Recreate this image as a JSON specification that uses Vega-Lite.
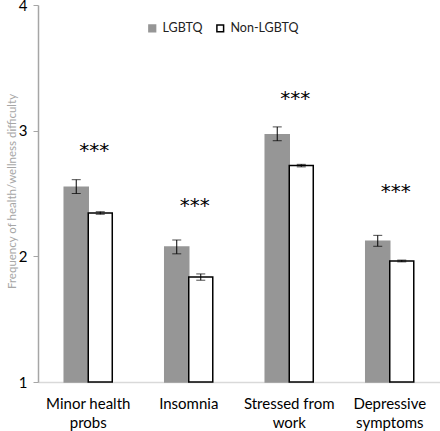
{
  "$schema": "https://vega.github.io/schema/vega-lite/v6.json",
  "width": 402,
  "height": 377,
  "autosize": {"type": "none"},
  "padding": {"left": 38, "top": 5, "right": 0, "bottom": 49},
  "background": "white",
  "config": {"view": {"stroke": null}, "font": "Lato"},
  "datasets": {
    "bars": [
      {"cat": "Minor health|probs", "group": "LGBTQ", "value": 2.55, "lo": 2.50, "hi": 2.61},
      {"cat": "Minor health|probs", "group": "Non-LGBTQ", "value": 2.345, "lo": 2.335, "hi": 2.355},
      {"cat": "Insomnia", "group": "LGBTQ", "value": 2.074, "lo": 2.02, "hi": 2.13},
      {"cat": "Insomnia", "group": "Non-LGBTQ", "value": 1.836, "lo": 1.81, "hi": 1.86},
      {"cat": "Stressed from|work", "group": "LGBTQ", "value": 2.968, "lo": 2.92, "hi": 3.03},
      {"cat": "Stressed from|work", "group": "Non-LGBTQ", "value": 2.722, "lo": 2.712, "hi": 2.732},
      {"cat": "Depressive|symptoms", "group": "LGBTQ", "value": 2.12, "lo": 2.08, "hi": 2.167},
      {"cat": "Depressive|symptoms", "group": "Non-LGBTQ", "value": 1.963, "lo": 1.956, "hi": 1.97}
    ],
    "stars": [
      {"cat": "Minor health|probs", "y": 2.84, "label": "***"},
      {"cat": "Insomnia", "y": 2.40, "label": "***"},
      {"cat": "Stressed from|work", "y": 3.25, "label": "***"},
      {"cat": "Depressive|symptoms", "y": 2.51, "label": "***"}
    ]
  },
  "encoding": {
    "x": {
      "field": "cat",
      "type": "nominal",
      "sort": null,
      "scale": {"domain": ["Minor health|probs", "Insomnia", "Stressed from|work", "Depressive|symptoms"], "paddingInner": 0.522, "paddingOuter": 0.261},
      "axis": {
        "title": null,
        "labelAngle": 0,
        "labelExpr": "split(datum.label, '|')",
        "labelFontSize": 15,
        "labelColor": "black",
        "labelLineHeight": 19,
        "labelPadding": 14,
        "ticks": false,
        "domainColor": "#d9d9d9",
        "domainWidth": 1.5
      }
    }
  },
  "layer": [
    {
      "data": {"name": "bars"},
      "mark": {"type": "bar", "strokeWidth": 1.5},
      "encoding": {
        "xOffset": {"field": "group", "type": "nominal", "scale": {"paddingInner": 0, "paddingOuter": 0}},
        "y": {
          "field": "value",
          "type": "quantitative",
          "scale": {"domain": [1, 4], "zero": false, "nice": false},
          "axis": {
            "values": [1, 2, 3, 4],
            "format": "d",
            "grid": false,
            "title": "Frequency of health/wellness difficulty",
            "titleColor": "#a6a6a6",
            "titleFontSize": 11.5,
            "titleFontWeight": "normal",
            "titlePadding": 1,
            "titleY": 186,
            "labelFontSize": 15,
            "labelColor": "black",
            "labelPadding": 6,
            "tickSize": 5,
            "tickColor": "#a6a6a6",
            "domainColor": "#a6a6a6",
            "domainWidth": 1.5
          }
        },
        "y2": {"datum": 1},
        "fill": {
          "field": "group",
          "type": "nominal",
          "scale": {"domain": ["LGBTQ", "Non-LGBTQ"], "range": ["#969696", "white"]},
          "legend": {
            "title": null,
            "orient": "none",
            "direction": "horizontal",
            "legendX": 108,
            "legendY": 17,
            "symbolType": "square",
            "symbolSize": 45,
            "symbolStrokeWidth": 1.5,
            "labelFontSize": 12.5,
            "labelColor": "#222",
            "columnPadding": 10,
            "labelOffset": 4
          }
        },
        "stroke": {
          "field": "group",
          "type": "nominal",
          "scale": {"domain": ["LGBTQ", "Non-LGBTQ"], "range": ["#969696", "black"]},
          "legend": {
            "title": null,
            "orient": "none",
            "direction": "horizontal",
            "legendX": 108,
            "legendY": 17,
            "symbolType": "square",
            "symbolSize": 45,
            "symbolStrokeWidth": 1.5,
            "labelFontSize": 12.5,
            "labelColor": "#222",
            "columnPadding": 10,
            "labelOffset": 4
          }
        }
      }
    },
    {
      "data": {"name": "bars"},
      "mark": {"type": "rule", "color": "black", "strokeWidth": 1},
      "encoding": {
        "xOffset": {"field": "group", "type": "nominal"},
        "y": {"field": "lo", "type": "quantitative"},
        "y2": {"field": "hi"}
      }
    },
    {
      "data": {"name": "bars"},
      "mark": {"type": "tick", "color": "black", "thickness": 1, "size": 9, "orient": "horizontal"},
      "encoding": {
        "xOffset": {"field": "group", "type": "nominal"},
        "y": {"field": "lo", "type": "quantitative"}
      }
    },
    {
      "data": {"name": "bars"},
      "mark": {"type": "tick", "color": "black", "thickness": 1, "size": 9, "orient": "horizontal"},
      "encoding": {
        "xOffset": {"field": "group", "type": "nominal"},
        "y": {"field": "hi", "type": "quantitative"}
      }
    },
    {
      "data": {"name": "stars"},
      "mark": {"type": "text", "font": "DejaVu Sans", "fontSize": 20, "color": "black", "dx": 6, "baseline": "middle"},
      "encoding": {
        "y": {"field": "y", "type": "quantitative"},
        "text": {"field": "label"}
      }
    }
  ]
}
